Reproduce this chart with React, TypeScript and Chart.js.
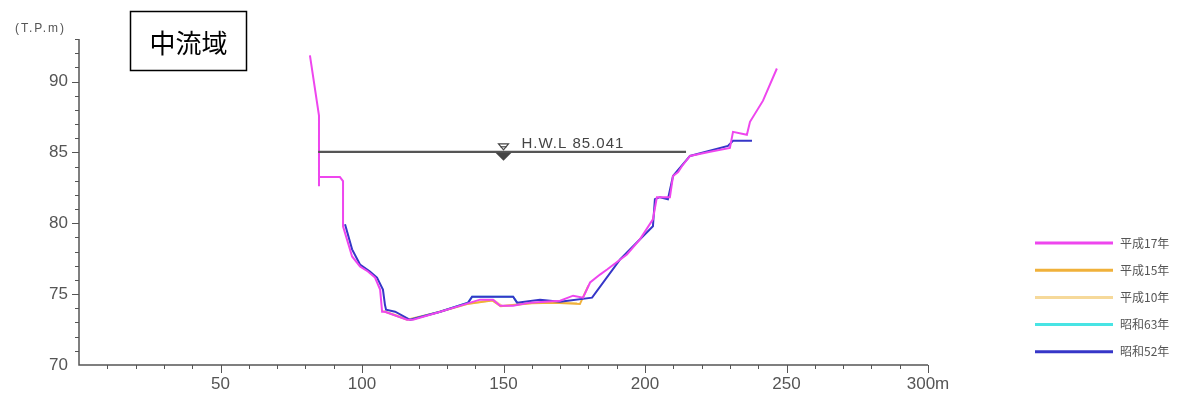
import React, { useEffect, useRef } from "react";
import { Chart, registerables } from "chart.js";

Chart.register(...registerables);

// 平成17年 (magenta) cross-section: [distance m, elevation T.P.m]
const h17X = [81.6, 84.8, 84.8, 84.8, 92.2, 93.3, 93.3, 96.5, 99.3, 102.1, 104.6, 106.4, 107.1, 108.1, 115.9, 118.0, 126.5, 137.1, 141.7, 146.3, 148.8, 153.4, 159.4, 170.0, 174.6, 178.1, 180.6, 184.1, 186.6, 193.6, 198.2, 202.8, 204.2, 208.8, 209.9, 211.7, 213.1, 215.9, 223.0, 230.0, 231.1, 236.0, 237.1, 241.7, 246.6];
const h17Y = [91.84, 87.59, 82.62, 83.26, 83.26, 82.98, 79.79, 77.66, 76.95, 76.6, 76.17, 75.32, 73.76, 73.76, 73.19, 73.19, 73.69, 74.33, 74.61, 74.61, 74.18, 74.18, 74.4, 74.54, 74.89, 74.75, 75.82, 76.38, 76.74, 77.8, 78.87, 80.28, 81.84, 81.84, 83.33, 83.62, 84.04, 84.75, 85.04, 85.32, 86.45, 86.24, 87.16, 88.65, 90.92];

// 平成15年 (orange)
const h15X = [107.5, 116.0, 126.5, 137.0, 146.0, 149.0, 160.0, 168.0, 177.0, 180.0];
const h15Y = [73.8, 73.2, 73.7, 74.3, 74.55, 74.15, 74.35, 74.4, 74.3, 75.6];

// 平成10年 (light orange)
const h10X = [108.0, 117.0, 127.0, 137.5, 146.5, 149.5, 160.0, 170.0, 176.0];
const h10Y = [73.78, 73.2, 73.72, 74.32, 74.58, 74.17, 74.38, 74.45, 74.35];

// 昭和63年 (cyan)
const s63X = [117.0, 127.6, 137.5, 138.9, 153.4, 154.8];
const s63Y = [73.19, 73.76, 74.4, 74.82, 74.82, 74.4];

// 昭和52年 (blue)
const s52X = [94.0, 96.5, 99.3, 102.8, 105.3, 107.4, 108.1, 108.5, 111.7, 117.0, 127.6, 137.5, 138.9, 153.4, 154.8, 162.9, 170.0, 181.3, 191.2, 202.8, 203.5, 205.3, 208.1, 209.9, 215.9, 229.3, 231.1, 237.8];
const s52Y = [79.93, 78.16, 77.09, 76.6, 76.17, 75.32, 74.26, 73.9, 73.76, 73.19, 73.76, 74.4, 74.82, 74.82, 74.4, 74.61, 74.47, 74.75, 77.45, 79.79, 81.7, 81.84, 81.7, 83.33, 84.75, 85.46, 85.82, 85.82];

// H.W.L
const hwlX = [84.5, 214.5];
const hwlLevel = 85.041;
const hwlMarkX = 150;
const hwlLabel = "H.W.L 85.041";

const seriesNames = ["平成17年", "平成15年", "平成10年", "昭和63年", "昭和52年"];
const seriesColors = ["#ee46ee", "#f0b13a", "#f6d99a", "#48e4e4", "#3636c8"];

const xTickLabels = [50, 100, 150, 200, 250, 300];
const yTickLabels = [70, 75, 80, 85, 90];
const yUnit = "(T.P.m)";
const title = "中流域";

const pts = (xs: number[], ys: number[]) => xs.map((x, i) => ({ x, y: ys[i] }));

const overlayPlugin = {
  id: "overlay",
  afterDraw(chart: any) {
    const ctx = chart.ctx;
    const { left, right, top, bottom } = chart.chartArea;
    const xs = chart.scales.x;
    const ys = chart.scales.y;
    ctx.save();
    // axes
    ctx.strokeStyle = "#555";
    ctx.lineWidth = 1.5;
    ctx.beginPath();
    ctx.moveTo(left, top);
    ctx.lineTo(left, bottom);
    ctx.lineTo(right, bottom);
    ctx.stroke();
    ctx.lineWidth = 1;
    ctx.beginPath();
    for (let v = 10; v <= 300; v += 10) {
      const px = Math.round(xs.getPixelForValue(v)) + 0.5;
      const len = v % 50 === 0 ? 8 : 4;
      ctx.moveTo(px, bottom);
      ctx.lineTo(px, bottom + len);
    }
    for (let v = 71; v <= 93; v += 1) {
      const py = Math.round(ys.getPixelForValue(v)) + 0.5;
      const len = v % 5 === 0 ? 7 : 4;
      ctx.moveTo(left, py);
      ctx.lineTo(left - len, py);
    }
    ctx.stroke();

    // unit label
    ctx.fillStyle = "#555";
    ctx.font = "12px 'Liberation Sans'";
    (ctx as any).letterSpacing = "2px";
    ctx.textAlign = "left";
    ctx.textBaseline = "middle";
    ctx.fillText(yUnit, 15, 29);
    (ctx as any).letterSpacing = "0px";

    // title box
    ctx.fillStyle = "#fff";
    ctx.fillRect(130, 11, 117, 60);
    ctx.strokeStyle = "#000";
    ctx.lineWidth = 1.5;
    ctx.strokeRect(130.5, 11.5, 116, 59);
    ctx.fillStyle = "#000";
    ctx.font = "26px 'Noto Sans CJK JP'";
    ctx.textAlign = "center";
    ctx.textBaseline = "middle";
    ctx.fillText(title, 188.5, 43);

    // HWL marker
    const mx = xs.getPixelForValue(hwlMarkX);
    const my = ys.getPixelForValue(hwlLevel);
    ctx.fillStyle = "#444";
    ctx.beginPath();
    ctx.moveTo(mx - 8, my + 1);
    ctx.lineTo(mx + 8, my + 1);
    ctx.lineTo(mx, my + 9);
    ctx.closePath();
    ctx.fill();
    ctx.strokeStyle = "#444";
    ctx.lineWidth = 1.2;
    ctx.beginPath();
    ctx.moveTo(mx - 5, my - 8);
    ctx.lineTo(mx + 5, my - 8);
    ctx.lineTo(mx, my - 2);
    ctx.closePath();
    ctx.stroke();
    ctx.beginPath();
    ctx.moveTo(mx - 3, my - 5);
    ctx.lineTo(mx + 3, my - 5);
    ctx.stroke();
    ctx.fillStyle = "#444";
    ctx.font = "15px 'Liberation Sans'";
    (ctx as any).letterSpacing = "1px";
    ctx.textAlign = "left";
    ctx.textBaseline = "alphabetic";
    ctx.fillText(hwlLabel, mx + 18, my - 4);
    (ctx as any).letterSpacing = "0px";

    // legend
    ctx.font = "12px 'Noto Sans CJK JP'";
    ctx.textBaseline = "middle";
    seriesNames.forEach((name, i) => {
      const y = 243 + i * 27.2;
      ctx.strokeStyle = seriesColors[i];
      ctx.lineWidth = 3;
      ctx.beginPath();
      ctx.moveTo(1035, y);
      ctx.lineTo(1113, y);
      ctx.stroke();
      ctx.fillStyle = "#555";
      ctx.fillText(name, 1120, y);
    });
    ctx.restore();
  },
};

export default function App() {
  const ref = useRef<HTMLCanvasElement>(null);
  useEffect(() => {
    document.body.style.margin = "0";
    const ds = (label: string, data: any[], color: string, order: number) => ({
      label,
      data,
      borderColor: color,
      backgroundColor: color,
      borderWidth: 2,
      pointRadius: 0,
      showLine: true,
      order,
      tension: 0,
    });
    const chart = new Chart(ref.current!, {
      type: "scatter",
      data: {
        datasets: [
          { ...ds("H.W.L", pts(hwlX, [hwlLevel, hwlLevel]), "#555", 0), borderWidth: 2.2 },
          ds(seriesNames[0], pts(h17X, h17Y), seriesColors[0], 1),
          ds(seriesNames[4], pts(s52X, s52Y), seriesColors[4], 2),
          ds(seriesNames[3], pts(s63X, s63Y), seriesColors[3], 3),
          ds(seriesNames[1], pts(h15X, h15Y), seriesColors[1], 4),
          ds(seriesNames[2], pts(h10X, h10Y), seriesColors[2], 5),
        ],
      },
      plugins: [overlayPlugin],
      options: {
        animation: false,
        responsive: false,
        maintainAspectRatio: false,
        layout: { padding: { top: 39, right: 257, left: 0, bottom: 0 } },
        plugins: { legend: { display: false }, tooltip: { enabled: false } },
        scales: {
          x: {
            type: "linear",
            min: 0,
            max: 300,
            grid: { display: false, drawTicks: false },
            border: { display: false },
            afterFit: (s: any) => {
              s.height = 36;
            },
            ticks: {
              stepSize: 10,
              autoSkip: false,
              maxRotation: 0,
              padding: 9,
              color: "#555",
              font: { family: "'Liberation Sans'", size: 17 },
              callback: (v: any) => (xTickLabels.includes(v) ? (v === 300 ? "300m" : String(v)) : ""),
            },
          },
          y: {
            type: "linear",
            min: 70,
            max: 93,
            grid: { display: false, drawTicks: false },
            border: { display: false },
            afterFit: (s: any) => {
              s.width = 79;
            },
            ticks: {
              stepSize: 1,
              autoSkip: false,
              padding: 11,
              color: "#555",
              font: { family: "'Liberation Sans'", size: 17 },
              callback: (v: any) => (yTickLabels.includes(v) ? String(v) : ""),
            },
          },
        },
      },
    });
    return () => chart.destroy();
  }, []);
  return (
    <div style={{ position: "relative", width: 1185, height: 401, background: "#fff" }}>
      <canvas ref={ref} width={1185} height={401} style={{ display: "block" }} />
    </div>
  );
}
